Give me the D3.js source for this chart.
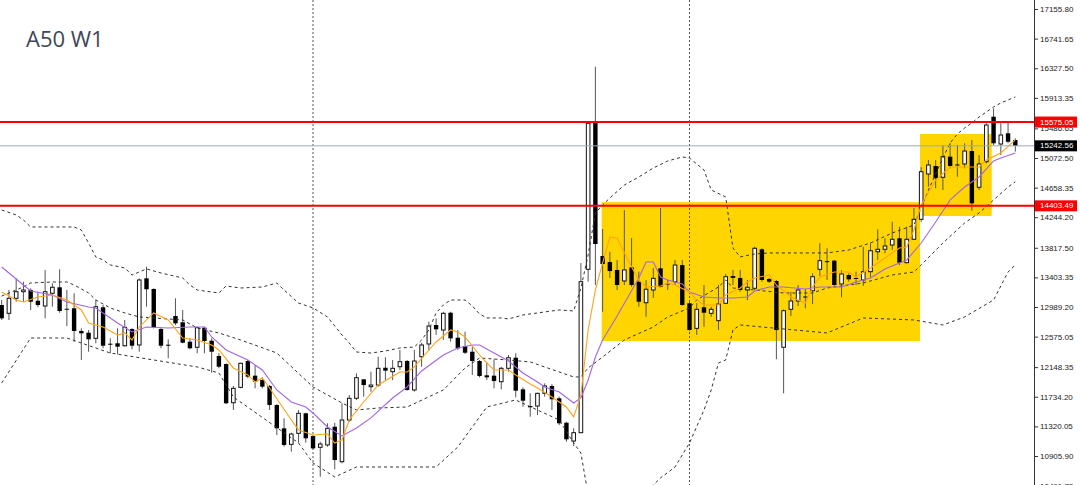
<!DOCTYPE html>
<html><head><meta charset="utf-8">
<script src="https://cdn.jsdelivr.net/npm/d3@7"></script>
<style>html,body{margin:0;padding:0;background:#fff;}svg{display:block;}</style>
</head><body>
<svg id="chart" width="1080" height="485"></svg>
<script>
// ---- data (weekly candles, A50 W1) ----
const openP = [13017,12901,13111,13203,13227,13077,13003,13181,13265,12965,12971,12654,12630,12551,12985,12476,12482,12448,12681,12458,13390,13241,12681,12462,12863,12775,12504,12426,12700,12518,12304,12192,11651,11866,12234,12029,11968,11885,11619,11293,11069,11223,11503,11185,11027,11060,11315,10826,11409,11713,11978,11875,11898,12140,12085,12154,12234,11829,12294,12472,12737,12667,12909,12560,12444,12364,12234,12034,12029,11945,12132,12280,11838,11605,11605,11782,11885,11713,11371,11115,11232,13516,15590,13702,13618,13507,13353,13544,13343,13049,13227,13530,13318,13343,13576,13041,12691,12985,12901,12798,13041,13409,13395,13227,13251,13796,13381,13353,12426,12957,13073,13136,13217,13516,13630,13637,13311,13437,13395,13367,13483,13762,13796,13856,13950,13609,13936,14215,14849,14961,14803,15091,14982,14989,15170,14663,15021,15650,15268,15418,15324];
const highP = [13087,13227,13390,13343,13251,13203,13507,13320,13516,13227,13181,12691,12667,13087,13017,12551,12691,12807,12691,13390,13553,13251,12700,12537,13111,12947,12551,12714,12714,12551,12342,12202,11885,12210,12248,12178,12006,11898,11633,11433,11232,11549,11511,11199,11106,11363,11371,11643,11759,12062,11978,12085,12294,12286,12248,12388,12248,12388,12490,12784,12831,12923,12923,12667,12644,12434,12248,12224,12258,12154,12318,12342,11866,11782,11791,11922,11912,11735,11385,11293,13604,15580,16349,14080,13762,13646,14345,13954,13483,13367,13534,14373,13367,13646,13646,13063,13045,13297,12993,13297,13451,13507,13507,13367,13832,13810,13395,13367,12957,13203,13297,13237,13460,13880,13810,13646,13507,13460,13483,13832,13880,14076,13950,14182,14112,14112,14373,14942,15045,15045,15254,15286,15254,15278,15324,15114,15558,15767,15558,15566,15348];
const lowP = [12807,12807,13063,13063,12947,12985,12831,12993,12909,12723,12504,12248,12364,12482,12412,12342,12328,12434,12398,12364,12993,12691,12412,12272,12737,12482,12398,12342,12342,12071,12132,11633,11549,11852,11992,11852,11852,11549,11199,11036,10966,11092,11092,10999,10616,11036,10720,10804,11385,11689,11735,11805,11875,11968,11968,12108,11819,11805,12154,12378,12598,12528,12504,12388,12332,12038,12006,11968,11852,11838,12085,11727,11595,11455,11479,11735,11549,11339,11106,11045,11227,13343,13297,12923,13395,13227,13297,13273,12993,12853,13115,13262,13227,13297,13007,12658,12598,12714,12853,12667,13031,13297,13203,13087,13227,13343,13325,12258,11782,12863,13003,12971,13031,13423,13367,13283,13125,13343,13297,13283,13404,13646,13740,13786,13576,13600,13926,14182,14671,14649,14625,14928,14811,14928,14336,14625,14998,15254,15114,15278,15161];
const closeP = [12831,13111,13203,13227,13063,13017,13203,13265,12933,12951,12654,12621,12537,12993,12448,12462,12434,12705,12448,13367,13237,12705,12448,12454,12761,12490,12412,12700,12514,12364,12154,11643,11852,12202,12015,11945,11875,11619,11293,11060,11213,11503,11153,11013,11074,11293,10850,11409,11713,12001,11898,11898,12132,12099,12132,12224,11829,12234,12458,12723,12677,12901,12551,12412,12350,12234,12024,12006,11954,12132,12280,11819,11679,11587,11782,11885,11699,11363,11139,11232,13343,15558,13870,13590,13492,13297,13507,13297,13063,13237,13390,13273,13304,13576,13017,12667,12957,12909,12957,13031,13413,13416,13227,13265,13810,13367,13343,12667,12937,13073,13227,13122,13413,13637,13618,13297,13451,13376,13386,13483,13776,13796,13842,13936,13609,13936,14215,14881,14975,14789,15091,14961,14968,15170,14439,14989,15534,15278,15394,15300,15242.56];

// moving averages (read at sample candles)
const maFastIdx = [0,2,3,5,7,9,11,12,14,16,17,18,19,21,23,25,27,29,30,32,34,35,36,37,40,41,43,45,46,47,48,50,52,55,56,57,59,60,62,63,64,66,67,68,70,71,73,74,76,78,79,80,81,82,83,84,85,87,88,89,91,92,93,95,96,97,99,100,102,103,104,106,107,109,111,112,113,115,117,118,120,122,124,125,126,127,129,131,133,135,136,138,140];
const maFastVal = [13199,13087,13059,13129,13157,13087,12948,12766,12710,12598,12626,12528,12710,12906,12808,12556,12528,12458,12388,12137,12039,11941,11997,11857,11410,11270,11200,11214,11088,11130,11410,11661,11899,12081,12081,12151,12388,12500,12668,12640,12570,12318,12207,12109,12109,12039,11913,11857,11731,11591,11452,11759,12668,13227,13605,13968,13954,13549,13367,13269,13283,13325,13297,13199,13087,13017,13017,13157,13255,13339,13395,13437,13297,13129,13045,13269,13409,13479,13479,13409,13535,13675,13814,13828,14066,14416,14765,14947,14947,14947,15045,15143,15325];
const maSlowIdx = [0,3,4,7,9,12,13,16,18,20,23,26,28,29,31,34,36,38,40,42,43,45,47,49,51,54,56,58,61,63,65,66,68,70,72,74,75,77,79,80,81,82,83,85,88,89,90,91,92,94,95,97,99,101,103,104,106,108,111,113,116,118,120,122,124,125,127,129,131,133,135,137,138,140];
const maSlowVal = [13549,13297,13213,13157,13059,12990,12976,12766,12640,12710,12696,12710,12710,12570,12388,12248,12109,11829,11661,11591,11507,11312,11186,11298,11438,11717,11871,12095,12318,12416,12458,12458,12346,12234,12067,11941,11871,11801,11647,11717,11969,12290,12528,12864,13395,13619,13619,13409,13367,13311,13199,13129,13115,13115,13129,13213,13269,13269,13241,13269,13269,13339,13395,13521,13605,13647,13884,14178,14486,14667,14807,15031,15073,15143];

// Bollinger bands (read at sample candles)
const bbUpperIdx = [0,2,3,4,10,11,12,13,14,15,17,18,19,20,22,25,26,27,30,31,33,36,38,39,41,43,45,47,48,49,51,53,55,57,58,59,60,61,62,64,65,66,67,69,70,72,75,77,79,80,81,82,83,84,86,88,90,92,94,95,97,98,100,101,102,104,106,114,117,120,123,126,127,128,129,130,131,132,133,134,135,137,138,140];
const bbUpperVal = [14346,14276,14206,14108,14108,14066,13884,13689,13647,13577,13535,13437,13479,13521,13465,13395,13297,13227,13185,13283,13255,13269,13325,13227,13045,12976,12850,12598,12486,12360,12346,12374,12416,12430,12528,12668,12906,13017,13087,13087,13004,12892,12836,12836,12822,12878,12920,12948,12934,13255,13717,14304,14416,14514,14695,14807,14933,15031,15087,15073,14905,14625,14528,13814,13689,13731,13745,13745,13787,13884,14024,14136,14374,14625,14849,15073,15283,15408,15492,15562,15646,15786,15842,15926];
const bbMidIdx = [0,3,4,7,9,10,12,13,15,17,19,25,27,30,33,38,43,47,49,52,56,61,64,66,70,73,75,79,80,81,83,86,90,92,95,96,99,100,101,104,108,112,114,119,123,126,127,130,133,135,137,139,140];
const bbMidVal = [13143,13269,13325,13339,13339,13297,13185,13087,12976,12906,12850,12808,12696,12626,12528,12346,11871,11647,11549,11577,11591,11829,12137,12276,12248,12221,12151,12011,12011,12137,12290,12528,12710,12850,12976,13087,13269,13367,13255,13227,13185,13185,13255,13325,13437,13479,13577,13884,14164,14304,14486,14667,14740];
const bbLowIdx = [0,4,9,11,15,27,30,32,41,43,46,49,51,60,63,66,67,71,74,77,79,80,81,82,84,86,88,90,91,93,95,97,98,99,100,101,102,105,114,119,126,130,133,137,139,140];
const bbLowVal = [11927,12556,12556,12486,12346,12151,12067,11731,11088,10808,10613,10752,10752,10752,11032,11452,11591,11689,11549,11410,11088,10948,10361,10193,10179,10319,10389,10501,10599,10752,11088,11549,11829,12207,12248,12668,12738,12710,12626,12836,12808,12738,12850,13087,13479,13577];

// objects
const separatorIdx = [43, 95];
const levelPrices = [15575.05, 14403.49];
const currentPrice = 15242.56;
const zoneStart = [82.87, 126.84];
const zoneEnd = [126.84, 136.74];
const zoneTop = [14455, 15408];
const zoneBottom = [12514, 14262];
const tickValues = [17155.80,16741.65,16327.50,15913.35,15486.65,15072.50,14658.35,14244.20,13817.50,13403.35,12989.20,12575.05,12148.35,11734.20,11320.05,10905.90,10491.75];
const titleText = "A50 W1";

// ---- layout ----
const W = 1080, H = 485, axisX = 1034;
const svg = d3.select("#chart");
const x = d3.scaleLinear().domain([0, 140]).range([1.7, 1015.3]);
const y = d3.scaleLinear().domain([10905.90, 17155.80]).range([456, 9]);

svg.append("defs").append("clipPath").attr("id","plotclip")
  .append("rect").attr("x",0).attr("y",0).attr("width",axisX).attr("height",H);
const plot = svg.append("g").attr("clip-path","url(#plotclip)");

// zones
plot.selectAll("rect.zone").data(zoneStart.map((s,i)=>({s, e:zoneEnd[i], t:zoneTop[i], b:zoneBottom[i]})))
  .enter().append("rect").attr("class","zone")
  .attr("x", d=>x(d.s)).attr("width", d=>x(d.e)-x(d.s))
  .attr("y", d=>y(d.t)).attr("height", d=>y(d.b)-y(d.t))
  .attr("fill","#FFD500");

// separators
plot.selectAll("line.sep").data(separatorIdx).enter().append("line")
  .attr("x1", d=>x(d)).attr("x2", d=>x(d)).attr("y1",0).attr("y2",H)
  .attr("stroke","#555").attr("stroke-width",1).attr("stroke-dasharray","2,2");

// candles
const candles = openP.map((o,i)=>({i, o, h:highP[i], l:lowP[i], c:closeP[i]}));
const cg = plot.append("g");
cg.selectAll("line.wick").data(candles).enter().append("line")
  .attr("x1", d=>x(d.i)).attr("x2", d=>x(d.i))
  .attr("y1", d=>y(d.h)).attr("y2", d=>y(d.l))
  .attr("stroke","#555").attr("stroke-width",1);
cg.selectAll("rect.body").data(candles).enter().append("rect")
  .attr("x", d=> d.c>=d.o ? x(d.i)-1.8 : x(d.i)-2.2)
  .attr("width", d=> d.c>=d.o ? 3.6 : 4.4)
  .attr("y", d=>y(Math.max(d.o,d.c)))
  .attr("height", d=>Math.max(1, y(Math.min(d.o,d.c))-y(Math.max(d.o,d.c))))
  .attr("fill", d=> d.c>=d.o ? "#fff" : "#000")
  .attr("stroke", d=> d.c>=d.o ? "#111" : "none")
  .attr("stroke-width", 1);

// bands
const line = d3.line().x(d=>x(d[0])).y(d=>y(d[1]));
function pairs(a,b){ return a.map((v,i)=>[v,b[i]]); }
[[bbUpperIdx,bbUpperVal],[bbMidIdx,bbMidVal],[bbLowIdx,bbLowVal]].forEach(([a,b])=>{
  plot.append("path").attr("d", line(pairs(a,b))).attr("fill","none")
    .attr("stroke","#333").attr("stroke-width",1).attr("stroke-dasharray","3,3");
});
// MAs
plot.append("path").attr("d", line(pairs(maSlowIdx,maSlowVal))).attr("fill","none")
  .attr("stroke","#a066e6").attr("stroke-width",1.1);
plot.append("path").attr("d", line(pairs(maFastIdx,maFastVal))).attr("fill","none")
  .attr("stroke","#ffa31a").attr("stroke-width",1.1);

// horizontal lines
plot.append("line").attr("x1",0).attr("x2",axisX).attr("y1",y(currentPrice)).attr("y2",y(currentPrice))
  .attr("stroke","#9ea9b8").attr("stroke-width",1);
plot.selectAll("line.lvl").data(levelPrices).enter().append("line")
  .attr("x1",0).attr("x2",axisX).attr("y1",d=>y(d)).attr("y2",d=>y(d))
  .attr("stroke","#ff0000").attr("stroke-width",2);

// axis
const axis = d3.axisRight(y).tickValues(tickValues).tickSize(4).tickPadding(2)
  .tickFormat(d=>d.toFixed(2));
const ag = svg.append("g").attr("transform",`translate(${axisX},0)`).call(axis);
ag.select(".domain").remove();
ag.selectAll(".tick line").attr("stroke","#333");
ag.selectAll(".tick text").attr("font-family","'Liberation Sans', Arial, sans-serif")
  .attr("font-size","8px").attr("fill","#222");
svg.append("line").attr("x1",axisX+0.5).attr("x2",axisX+0.5).attr("y1",0).attr("y2",H)
  .attr("stroke","#333").attr("stroke-width",1);

// price labels
const priceLabels = [
  {p: levelPrices[0], bg:"#ff0000"},
  {p: levelPrices[1], bg:"#ff0000"},
  {p: currentPrice, bg:"#000000"}
];
const pl = svg.selectAll("g.pl").data(priceLabels).enter().append("g")
  .attr("transform", d=>`translate(${axisX+1},${y(d.p)})`);
pl.append("rect").attr("x",0).attr("y",-5.5).attr("width",42).attr("height",11).attr("fill",d=>d.bg);
pl.append("text").attr("x",5).attr("y",0).attr("dy","0.32em")
  .attr("font-family","'Liberation Sans', Arial, sans-serif").attr("font-size","8px")
  .attr("fill","#fff").text(d=>d.p.toFixed(2));

// title
svg.append("text").attr("x",26).attr("y",47).attr("font-family","'Open Sans', sans-serif")
  .attr("font-size","22px").attr("fill","#3d4756").text(titleText);
</script>
</body></html>
